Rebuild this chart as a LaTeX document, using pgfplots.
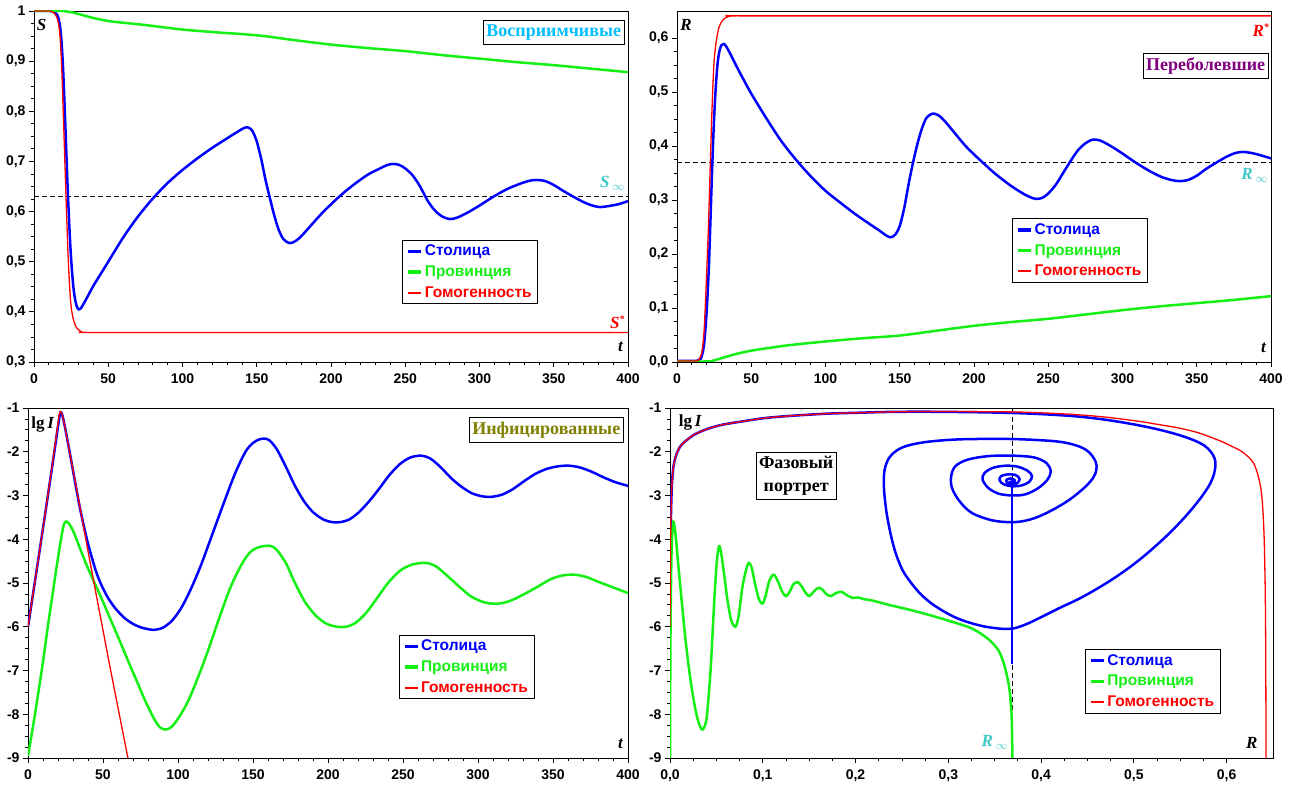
\documentclass[border=0pt]{standalone}
\usepackage{fontspec}
\setmainfont{Liberation Serif}
\setsansfont{Liberation Sans}
\usepackage{pgfplots}
\pgfplotsset{compat=1.18}
\definecolor{mblue}{RGB}{0,0,255}
\definecolor{mgreen}{RGB}{20,240,20}
\definecolor{mred}{RGB}{255,0,0}
\definecolor{lcyan}{RGB}{60,200,200}
\definecolor{tcyan}{RGB}{0,190,255}
\definecolor{tpurple}{RGB}{128,0,128}
\definecolor{tolive}{RGB}{128,128,0}
\pgfplotsset{
 myaxis/.style={scale only axis, axis line style={black, line width=0.9pt}, tick pos=left, tick align=outside,
  major tick length=5pt, minor tick length=3pt, tick style={black, line width=0.8pt},
  tick label style={font=\sffamily\bfseries\fontsize{14}{16}\selectfont},
  xticklabel style={yshift=-3pt},
  legend image code/.code={\draw[##1] (0pt,0pt) -- (13pt,0pt);},
  legend cell align=left,
  legend style={draw=black, line width=0.8pt, fill=white, font=\sffamily\bfseries\fontsize{15.5}{19}\selectfont, inner xsep=4pt, inner ysep=3pt, row sep=4.5pt, anchor=north west, /tikz/every even column/.append style={column sep=3pt}}},
 tx/.style={xtick={0,50,100,150,200,250,300,350,400}, xticklabels={0,50,100,150,200,250,300,350,400}, minor x tick num=4},
 bl/.style={mblue, line width=2.5pt, smooth, legend image post style={line width=3.2pt}},
 gr/.style={mgreen, line width=2.5pt, smooth, legend image post style={line width=3.2pt}},
 rd/.style={mred, line width=1.3pt, smooth, legend image post style={line width=2pt}},
 dsh/.style={black, line width=0.8pt, dash pattern=on 5pt off 3pt, forget plot},
}
\tikzset{ttl/.style={draw=black, line width=0.8pt, fill=white, font=\bfseries\fontsize{18}{21}\selectfont, inner xsep=3pt, inner ysep=4pt},
 alab/.style={font=\bfseries\itshape\fontsize{17}{17}\selectfont}}
\begin{document}
\begin{tikzpicture}
\useasboundingbox (0,0) rectangle (1290pt,787pt);
% ---------------- TL: S ----------------
\begin{axis}[myaxis, tx, at={(34pt,425pt)}, anchor=south west, width=594pt, height=351pt,
 xmin=0, xmax=400, ymin=0.3, ymax=1,
 ytick={0.3,0.4,0.5,0.6,0.7,0.8,0.9,1}, yticklabels={{0,3},{0,4},{0,5},{0,6},{0,7},{0,8},{0,9},{1}}, minor y tick num=3,
 legend style={at={(axis cs:248,0.544)}}]
\addplot[dsh] coordinates {(0,0.631) (400,0.631)};
\addplot[bl] coordinates {(0,1) (11,1) (14,0.997) (16,0.99) (17.5,0.97) (18.5,0.94) (19.5,0.89) (20.5,0.82) (21.5,0.74) (22.5,0.66) (23.5,0.59) (24.5,0.53) (25.5,0.485) (26.5,0.45) (27.5,0.428) (28.7,0.412) (30,0.405) (31.5,0.407) (33,0.414) (36,0.43) (40,0.452) (45,0.476) (50,0.5) (60,0.548) (70,0.59) (80,0.626) (90,0.657) (100,0.683) (110,0.706) (120,0.727) (130,0.746) (137,0.759) (141,0.766) (144,0.768) (147,0.761) (150,0.74) (153,0.705) (156,0.662) (159,0.625) (162,0.59) (165,0.562) (168,0.545) (172,0.537) (176,0.541) (180,0.551) (187,0.574) (195,0.6) (206,0.631) (215,0.653) (225,0.674) (233,0.686) (238,0.693) (242,0.695) (246,0.693) (250,0.686) (255,0.672) (260,0.65) (265,0.622) (270,0.602) (275,0.59) (280,0.585) (285,0.588) (292,0.598) (300,0.612) (309,0.629) (318,0.644) (326,0.654) (333,0.661) (338,0.663) (344,0.661) (350,0.653) (356,0.642) (363,0.63) (370,0.619) (376,0.612) (381,0.609) (387,0.611) (394,0.615) (400,0.621)};
\addlegendentry{\textcolor{mblue}{Столица}}
\addplot[gr] coordinates {(0,1.0) (18,1.0) (22,0.999) (26,0.997) (30,0.994) (35,0.99) (40,0.986) (50,0.98) (62,0.976) (75,0.972) (100,0.963) (125,0.957) (140,0.954) (155,0.95) (175,0.942) (200,0.933) (225,0.926) (250,0.92) (275,0.912) (300,0.905) (325,0.898) (350,0.892) (375,0.885) (400,0.878)};
\addlegendentry{\textcolor{mgreen}{Провинция}}
\addplot[rd] coordinates {(0,1) (10,1) (13,0.997) (15,0.99) (16.5,0.975) (17.5,0.95) (18.3,0.91) (19,0.86) (20,0.77) (21,0.68) (22,0.59) (23,0.51) (24,0.45) (25,0.41) (26.5,0.385) (28.3,0.37) (31,0.362) (35,0.359) (60,0.359) (400,0.359)};
\addlegendentry{\textcolor{mred}{Гомогенность}}
\node[ttl, text=tcyan] at (axis cs:350,0.957) {Восприимчивые};
\node[alab] at (axis cs:5.1,0.973) {S};
\node[alab] at (axis cs:395,0.33) {t};
\node[alab, text=lcyan, anchor=east] at (axis cs:400,0.656) {S\,\raisebox{-3pt}{\fontsize{12}{12}\selectfont$\infty$}};
\node[alab, text=mred, anchor=east] at (axis cs:400,0.38) {S\raisebox{6pt}{\fontsize{10}{10}\selectfont *}};
\end{axis}
% ---------------- TR: R ----------------
\begin{axis}[myaxis, tx, at={(677pt,425pt)}, anchor=south west, width=594pt, height=351pt,
 xmin=0, xmax=400, ymin=0, ymax=0.65,
 ytick={0,0.1,0.2,0.3,0.4,0.5,0.6}, yticklabels={{0,0},{0,1},{0,2},{0,3},{0,4},{0,5},{0,6}}, minor y tick num=3,
 legend style={at={(axis cs:225.6,0.266)}}]
\addplot[dsh] coordinates {(0,0.369) (400,0.369)};
\addplot[bl] coordinates {(0,0.002) (12,0.002) (14,0.003) (16,0.006) (17.5,0.02) (18.5,0.04) (19.5,0.075) (20.5,0.12) (21.5,0.18) (22.5,0.26) (23.5,0.345) (24.5,0.42) (25.5,0.48) (26.5,0.525) (27.5,0.557) (28.7,0.577) (30,0.587) (31.5,0.589) (33,0.585) (36,0.57) (40,0.548) (45,0.522) (50,0.497) (60,0.452) (70,0.41) (80,0.375) (90,0.344) (100,0.317) (110,0.295) (120,0.274) (130,0.255) (137,0.242) (141,0.234) (144,0.231) (147,0.236) (150,0.252) (153,0.285) (156,0.33) (159,0.37) (162,0.405) (165,0.433) (168,0.452) (172,0.46) (176,0.457) (180,0.447) (187,0.424) (195,0.398) (206,0.369) (215,0.347) (225,0.326) (233,0.312) (238,0.305) (242,0.302) (246,0.304) (250,0.312) (255,0.328) (260,0.35) (265,0.372) (270,0.392) (275,0.405) (280,0.412) (285,0.41) (292,0.4) (300,0.386) (309,0.369) (318,0.354) (326,0.343) (333,0.337) (338,0.335) (344,0.337) (350,0.345) (356,0.357) (363,0.369) (370,0.38) (376,0.387) (381,0.389) (387,0.387) (394,0.382) (400,0.377)};
\addlegendentry{\textcolor{mblue}{Столица}}
\addplot[gr] coordinates {(0,0.001) (20,0.001) (25,0.003) (31,0.008) (40,0.015) (50,0.021) (62,0.026) (75,0.031) (100,0.038) (125,0.044) (150,0.049) (175,0.058) (200,0.067) (225,0.074) (250,0.08) (275,0.088) (300,0.096) (325,0.103) (350,0.109) (375,0.115) (400,0.122)};
\addlegendentry{\textcolor{mgreen}{Провинция}}
\addplot[rd] coordinates {(0,0.002) (13,0.002) (15,0.006) (16.5,0.015) (17.5,0.034) (18.3,0.06) (19,0.1) (20,0.167) (21,0.237) (22,0.327) (23,0.42) (24,0.5) (25,0.558) (26.5,0.595) (28.3,0.62) (31,0.634) (35,0.64) (40,0.641) (60,0.641) (400,0.641)};
\addlegendentry{\textcolor{mred}{Гомогенность}}
\node[ttl, text=tpurple] at (axis cs:356,0.548) {Переболевшие};
\node[alab] at (axis cs:6.1,0.625) {R};
\node[alab] at (axis cs:395,0.027) {t};
\node[alab, text=lcyan, anchor=east] at (axis cs:400,0.345) {R\,\raisebox{-3pt}{\fontsize{12}{12}\selectfont$\infty$}};
\node[alab, text=mred, anchor=east] at (axis cs:401,0.614) {R\raisebox{6pt}{\fontsize{10}{10}\selectfont *}};
\end{axis}
% ---------------- BL: lg I ----------------
\begin{axis}[myaxis, tx, at={(28pt,29pt)}, anchor=south west, width=600pt, height=350pt,
 xmin=0, xmax=400, ymin=-9, ymax=-1,
 ytick={-9,-8,-7,-6,-5,-4,-3,-2,-1}, yticklabels={-9,-8,-7,-6,-5,-4,-3,-2,-1}, minor y tick num=3,
 legend style={at={(axis cs:247,-6.18)}}]
\addplot[bl] coordinates {(0,-6.0) (5,-4.88) (10,-3.75) (15,-2.6) (18,-1.9) (20,-1.42) (21.6,-1.1) (23,-1.18) (25,-1.5) (28,-2.05) (31,-2.62) (35,-3.35) (40,-4.1) (46,-4.8) (52,-5.26) (58,-5.57) (65,-5.82) (72,-5.97) (78,-6.04) (84,-6.07) (90,-6.02) (96,-5.86) (102,-5.58) (108,-5.18) (115,-4.62) (122,-3.97) (130,-3.22) (138,-2.5) (145,-2.0) (150,-1.8) (154,-1.72) (157.5,-1.7) (161,-1.74) (166,-1.95) (172,-2.35) (178,-2.78) (184,-3.13) (190,-3.38) (197,-3.55) (203,-3.61) (208,-3.61) (214,-3.55) (220,-3.4) (227,-3.15) (234,-2.85) (241,-2.53) (248,-2.28) (255,-2.13) (262,-2.09) (268,-2.15) (275,-2.35) (282,-2.6) (289,-2.8) (296,-2.95) (303,-3.02) (309,-3.03) (316,-2.98) (323,-2.86) (330,-2.69) (338,-2.51) (346,-2.39) (354,-2.33) (361,-2.32) (368,-2.36) (376,-2.46) (384,-2.59) (392,-2.7) (400,-2.78)};
\addlegendentry{\textcolor{mblue}{Столица}}
\addplot[gr] coordinates {(0,-8.95) (3,-8.35) (6.7,-7.55) (10,-6.8) (13,-6.05) (16,-5.35) (19,-4.65) (21.5,-4.1) (23.5,-3.72) (25,-3.6) (27,-3.63) (30,-3.8) (34,-4.15) (38,-4.5) (42,-4.82) (46,-5.12) (50,-5.43) (55,-5.83) (60,-6.23) (66,-6.72) (72,-7.2) (78,-7.68) (84,-8.1) (88,-8.3) (92,-8.35) (96,-8.28) (101,-8.05) (107,-7.68) (114,-7.1) (121,-6.45) (128,-5.75) (135,-5.1) (142,-4.6) (148,-4.3) (154,-4.18) (161.5,-4.15) (166,-4.25) (172,-4.55) (178,-5.0) (185,-5.45) (192,-5.75) (199,-5.93) (206,-6.0) (212,-6.0) (218,-5.92) (225,-5.7) (232,-5.38) (240,-5.0) (248,-4.72) (256,-4.58) (265,-4.54) (272,-4.62) (280,-4.85) (288,-5.1) (296,-5.32) (305,-5.45) (314,-5.47) (322,-5.4) (331,-5.25) (340,-5.08) (348,-4.92) (356,-4.83) (364,-4.81) (372,-4.86) (380,-4.97) (390,-5.1) (400,-5.23)};
\addlegendentry{\textcolor{mgreen}{Провинция}}
\addplot[rd] coordinates {(0,-6.0) (5,-4.88) (10,-3.75) (15,-2.58) (18,-1.85) (20,-1.35) (21,-1.12) (22,-1.09) (23,-1.18) (25,-1.5) (28,-2.05) (32,-2.78) (36,-3.52) (40,-4.27) (45,-5.18) (50,-6.08) (55,-6.98) (60,-7.85) (66.6,-9.0)};
\addlegendentry{\textcolor{mred}{Гомогенность}}
\node[ttl, text=tolive] at (axis cs:345.5,-1.5) {Инфицированные};
\node[font=\bfseries\fontsize{17}{17}\selectfont] at (axis cs:10,-1.37) {lg\,\textit{I}};
\node[alab] at (axis cs:395,-8.68) {t};
\end{axis}
% ---------------- BR: phase ----------------
\begin{axis}[myaxis, at={(670pt,29pt)}, anchor=south west, width=603pt, height=350pt,
 xmin=0, xmax=0.65, ymin=-9, ymax=-1,
 xtick={0,0.1,0.2,0.3,0.4,0.5,0.6}, xticklabels={{0,0},{0,1},{0,2},{0,3},{0,4},{0,5},{0,6}}, minor x tick num=3,
 ytick={-9,-8,-7,-6,-5,-4,-3,-2,-1}, yticklabels={-9,-8,-7,-6,-5,-4,-3,-2,-1}, minor y tick num=3,
 legend style={at={(axis cs:0.447,-6.51)}}]
\addplot[dsh] coordinates {(0.369,-9) (0.369,-1)};
\addplot[bl, tension=0.55] coordinates {(0,-6.0) (0.0003,-4.8) (0.0008,-3.7) (0.002,-2.8) (0.004,-2.3) (0.008,-2.0) (0.0125,-1.84) (0.02,-1.7) (0.026,-1.61) (0.04,-1.48) (0.057,-1.38) (0.08,-1.3) (0.102,-1.23) (0.13,-1.18) (0.169,-1.13) (0.2,-1.11) (0.236,-1.09) (0.27,-1.085) (0.303,-1.09) (0.34,-1.1) (0.37,-1.115) (0.4,-1.14) (0.437,-1.19) (0.47,-1.27) (0.504,-1.39) (0.53,-1.51) (0.549,-1.62) (0.565,-1.74) (0.576,-1.86) (0.583,-2.0) (0.587,-2.15) (0.588,-2.3) (0.5865,-2.5) (0.5825,-2.72) (0.575,-2.97) (0.566,-3.22) (0.556,-3.47) (0.545,-3.72) (0.533,-3.97) (0.52,-4.22) (0.506,-4.47) (0.491,-4.71) (0.475,-4.94) (0.458,-5.16) (0.44,-5.37) (0.421,-5.56) (0.403,-5.75) (0.3885,-5.9) (0.378,-5.99) (0.37,-6.04) (0.36,-6.05) (0.35,-6.03) (0.338,-5.99) (0.325,-5.92) (0.31,-5.81) (0.296,-5.66) (0.282,-5.47) (0.27,-5.25) (0.26,-5.0) (0.2505,-4.7) (0.243,-4.3) (0.2375,-3.85) (0.2335,-3.4) (0.231,-2.95) (0.2305,-2.6) (0.232,-2.35) (0.2365,-2.13) (0.2445,-1.97) (0.256,-1.86) (0.275,-1.78) (0.3,-1.73) (0.3255,-1.71) (0.37,-1.71) (0.415,-1.76) (0.437,-1.85) (0.4506,-1.99) (0.4587,-2.22) (0.4596,-2.41) (0.456,-2.6) (0.4462,-2.83) (0.4283,-3.13) (0.4059,-3.4) (0.388,-3.55) (0.37,-3.61) (0.3478,-3.57) (0.3255,-3.4) (0.3121,-3.13) (0.304,-2.83) (0.3031,-2.56) (0.3076,-2.33) (0.321,-2.18) (0.3433,-2.1) (0.37,-2.09) (0.3925,-2.13) (0.4059,-2.26) (0.4104,-2.45) (0.4068,-2.64) (0.397,-2.83) (0.3836,-2.97) (0.37,-3.0) (0.3544,-2.96) (0.3433,-2.83) (0.337,-2.64) (0.3389,-2.49) (0.3478,-2.37) (0.3612,-2.32) (0.3746,-2.34) (0.3858,-2.44) (0.3902,-2.56) (0.3871,-2.69) (0.379,-2.77) (0.37,-2.79) (0.3603,-2.75) (0.3554,-2.66) (0.3567,-2.56) (0.3634,-2.52) (0.3724,-2.53) (0.3768,-2.62) (0.3746,-2.71) (0.3688,-2.75) (0.3634,-2.71) (0.3628,-2.64) (0.3675,-2.61) (0.3715,-2.65) (0.3705,-2.71) (0.368,-2.73) (0.3668,-2.69) (0.3685,-2.68) (0.3688,-2.71)};
\addlegendentry{\textcolor{mblue}{Столица}}
\addplot[gr, tension=0.5] coordinates {(0,-9.0) (0.0003,-7.0) (0.0008,-5.5) (0.0018,-4.2) (0.0035,-3.6) (0.006,-3.9) (0.009,-4.6) (0.013,-5.5) (0.017,-6.35) (0.022,-7.2) (0.027,-7.85) (0.031,-8.2) (0.035,-8.35) (0.039,-8.15) (0.0416,-7.6) (0.044,-6.9) (0.046,-6.1) (0.048,-5.3) (0.0505,-4.5) (0.0528,-4.16) (0.055,-4.3) (0.058,-4.75) (0.062,-5.4) (0.066,-5.85) (0.0706,-6.0) (0.074,-5.75) (0.078,-5.1) (0.082,-4.7) (0.085,-4.54) (0.088,-4.65) (0.092,-5.05) (0.096,-5.38) (0.0997,-5.47) (0.103,-5.3) (0.107,-4.95) (0.1118,-4.81) (0.116,-4.95) (0.121,-5.2) (0.125,-5.3) (0.129,-5.2) (0.133,-5.03) (0.1377,-4.98) (0.142,-5.08) (0.146,-5.22) (0.15,-5.3) (0.154,-5.22) (0.158,-5.13) (0.1614,-5.11) (0.165,-5.17) (0.169,-5.26) (0.1735,-5.3) (0.178,-5.24) (0.1846,-5.2) (0.19,-5.27) (0.1967,-5.34) (0.2025,-5.33) (0.209,-5.37) (0.218,-5.4) (0.236,-5.5) (0.258,-5.61) (0.281,-5.74) (0.303,-5.88) (0.3255,-6.04) (0.343,-6.28) (0.3546,-6.56) (0.3612,-6.94) (0.3657,-7.4) (0.368,-7.93) (0.3688,-8.5) (0.369,-9.0)};
\addlegendentry{\textcolor{mgreen}{Провинция}}
\addplot[rd, tension=0.5] coordinates {(0,-6.0) (0.0003,-4.8) (0.0008,-3.7) (0.002,-2.8) (0.004,-2.3) (0.008,-2.0) (0.0125,-1.84) (0.02,-1.7) (0.026,-1.61) (0.04,-1.48) (0.057,-1.38) (0.08,-1.3) (0.102,-1.23) (0.13,-1.18) (0.169,-1.13) (0.2,-1.11) (0.236,-1.09) (0.27,-1.08) (0.303,-1.08) (0.34,-1.085) (0.37,-1.09) (0.4,-1.11) (0.437,-1.15) (0.47,-1.21) (0.504,-1.3) (0.53,-1.39) (0.549,-1.46) (0.57,-1.57) (0.594,-1.76) (0.606,-1.88) (0.616,-1.99) (0.625,-2.15) (0.63,-2.3) (0.634,-2.55) (0.637,-2.85) (0.639,-3.3) (0.6405,-4.0) (0.6415,-5.0) (0.642,-6.0) (0.6423,-7.5) (0.6425,-9.0)};
\addlegendentry{\textcolor{mred}{Гомогенность}}
\addplot[mblue, line width=1.3pt, forget plot] coordinates {(0.3688,-2.71) (0.3688,-6.85)};
\node[ttl, align=center, font=\bfseries\fontsize{18}{23}\selectfont] at (axis cs:0.136,-2.55) {Фазовый\\портрет};
\node[font=\bfseries\fontsize{17}{17}\selectfont] at (axis cs:0.022,-1.34) {lg\,\textit{I}};
\node[alab] at (axis cs:0.627,-8.66) {R};
\node[alab, text=lcyan, anchor=east] at (axis cs:0.368,-8.64) {R\,\raisebox{-3pt}{\fontsize{12}{12}\selectfont$\infty$}};
\end{axis}
\end{tikzpicture}
\end{document}
